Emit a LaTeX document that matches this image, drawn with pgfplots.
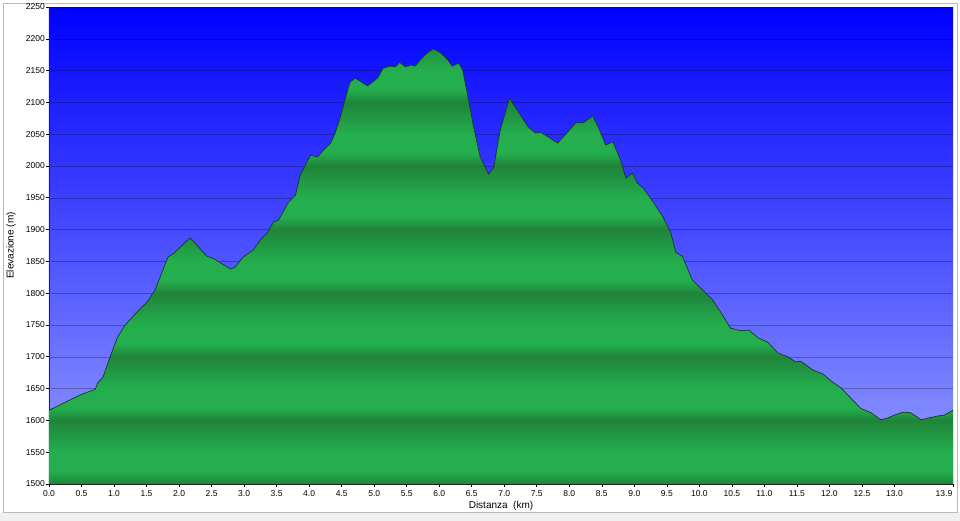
\documentclass[border=0pt]{standalone}
\usepackage{pgfplots}
\usepackage{pgfplotstable}
\pgfplotsset{compat=1.18}
\usepackage{fontspec}
\setmainfont{Liberation Sans}

\definecolor{skytop}{RGB}{0,0,255}
\definecolor{skybot}{RGB}{150,160,255}
\definecolor{bandDark}{RGB}{31,132,58}
\definecolor{bandLite}{RGB}{36,174,78}
\definecolor{ridge}{RGB}{20,60,30}

% stripes: 25bp..75bp of the shading cover 1500..2184 m (bbox of the fill)
\pgfdeclareverticalshading{bands}{100bp}{%
  color(0bp)=(bandDark); color(25bp)=(bandDark);
  color(26.46bp)=(bandLite); color(28.66bp)=(bandLite); color(32.31bp)=(bandDark);
  color(33.77bp)=(bandLite); color(35.97bp)=(bandLite); color(39.62bp)=(bandDark);
  color(41.08bp)=(bandLite); color(43.28bp)=(bandLite); color(46.93bp)=(bandDark);
  color(48.39bp)=(bandLite); color(50.59bp)=(bandLite); color(54.24bp)=(bandDark);
  color(55.70bp)=(bandLite); color(57.90bp)=(bandLite); color(61.55bp)=(bandDark);
  color(63.01bp)=(bandLite); color(65.21bp)=(bandLite); color(68.86bp)=(bandDark);
  color(70.32bp)=(bandLite); color(72.52bp)=(bandLite); color(76.17bp)=(bandDark);
  color(100bp)=(bandDark)}

\pgfplotstableread{
km    elev
0.00  1500
0.00  1616
0.48  1640
0.71  1649
0.75  1659
0.83  1668
0.94  1700
1.05  1730
1.17  1750
1.35  1770
1.51  1786
1.63  1805
1.83  1857
1.91  1862
2.17  1887
2.43  1858
2.52  1855
2.79  1838
2.86  1841
2.99  1857
3.14  1868
3.25  1884
3.36  1895
3.45  1912
3.53  1915
3.68  1943
3.79  1954
3.86  1985
4.02  2017
4.13  2014
4.22  2025
4.33  2036
4.40  2052
4.48  2077
4.56  2108
4.63  2132
4.71  2138
4.82  2131
4.90  2126
5.05  2138
5.14  2154
5.25  2157
5.33  2156
5.39  2163
5.48  2156
5.57  2159
5.63  2157
5.71  2167
5.82  2178
5.91  2184
6.02  2178
6.13  2167
6.20  2157
6.30  2162
6.36  2151
6.43  2115
6.53  2061
6.63  2014
6.76  1987
6.84  1998
6.91  2041
6.94  2057
7.08  2107
7.25  2080
7.37  2061
7.48  2052
7.56  2053
7.67  2046
7.82  2036
7.91  2046
8.10  2068
8.22  2068
8.36  2079
8.45  2060
8.56  2033
8.67  2038
8.79  2009
8.87  1981
8.97  1989
9.05  1973
9.14  1965
9.30  1942
9.44  1920
9.56  1895
9.64  1864
9.74  1858
9.89  1821
10.04 1806
10.20 1790
10.33 1770
10.48 1745
10.64 1741
10.76 1742
10.90 1730
11.05 1723
11.21 1706
11.36 1700
11.48 1692
11.56 1693
11.75 1679
11.90 1673
12.05 1660
12.18 1651
12.33 1635
12.48 1619
12.64 1612
12.79 1601
12.90 1604
12.99 1608
13.13 1613
13.25 1612
13.41 1601
13.53 1604
13.67 1607
13.76 1608
13.90 1616
13.90 1500
}\profile

\begin{document}
\begin{tikzpicture}
\useasboundingbox (-49pt,-37pt) rectangle (911pt,484pt);
\fill[white] (-49pt,-37pt) rectangle (911pt,484pt);
\fill[gray!12] (-49pt,-37pt) rectangle (911pt,-28pt);
\draw[gray!55, line width=0.8pt] (-46pt,-28pt) rectangle (908pt,481pt);
\begin{axis}[
    scale only axis,
    width=904pt, height=477pt,
    at={(0,0)}, anchor=south west,
    xmin=0, xmax=13.9, ymin=1500, ymax=2250,
    xtick={0,0.5,...,13.0},
    extra x ticks={13.9},
    extra x tick style={xticklabel style={xshift=-9pt}},
    ytick={1500,1550,...,2250},
    /pgf/number format/assume math mode=true,
    xticklabel style={/pgf/number format/fixed, /pgf/number format/fixed zerofill,
                      /pgf/number format/precision=1},
    yticklabel style={/pgf/number format/1000 sep={}, inner sep=1pt},
    tick label style={font=\fontsize{8.5}{10}\selectfont},
    axis lines*=left,
    axis line style={black!85, line width=0.8pt, -},
    tick align=outside, major tick length=3pt,
    tick style={black, line width=0.6pt},
    ymajorgrids,
    grid style={black, opacity=0.28, line width=0.5pt},
    axis background/.style={top color=skytop, bottom color=skybot},
    xlabel={Distanza\ \ (km)},
    ylabel={Elevazione (m)},
    label style={font=\fontsize{8.5}{10}\selectfont},
    every axis x label/.style={at={(axis description cs:0.5,-0.0461)}, anchor=center},
    every axis y label/.style={at={(axis description cs:-0.0420,0.5)}, rotate=90, anchor=center},
]
\addplot[draw=none, shading=bands] table {\profile} -- cycle;
\addplot[draw=ridge, line width=0.7pt, line join=round, restrict y to domain=1505:2300] table {\profile};
\end{axis}
\end{tikzpicture}
\end{document}
